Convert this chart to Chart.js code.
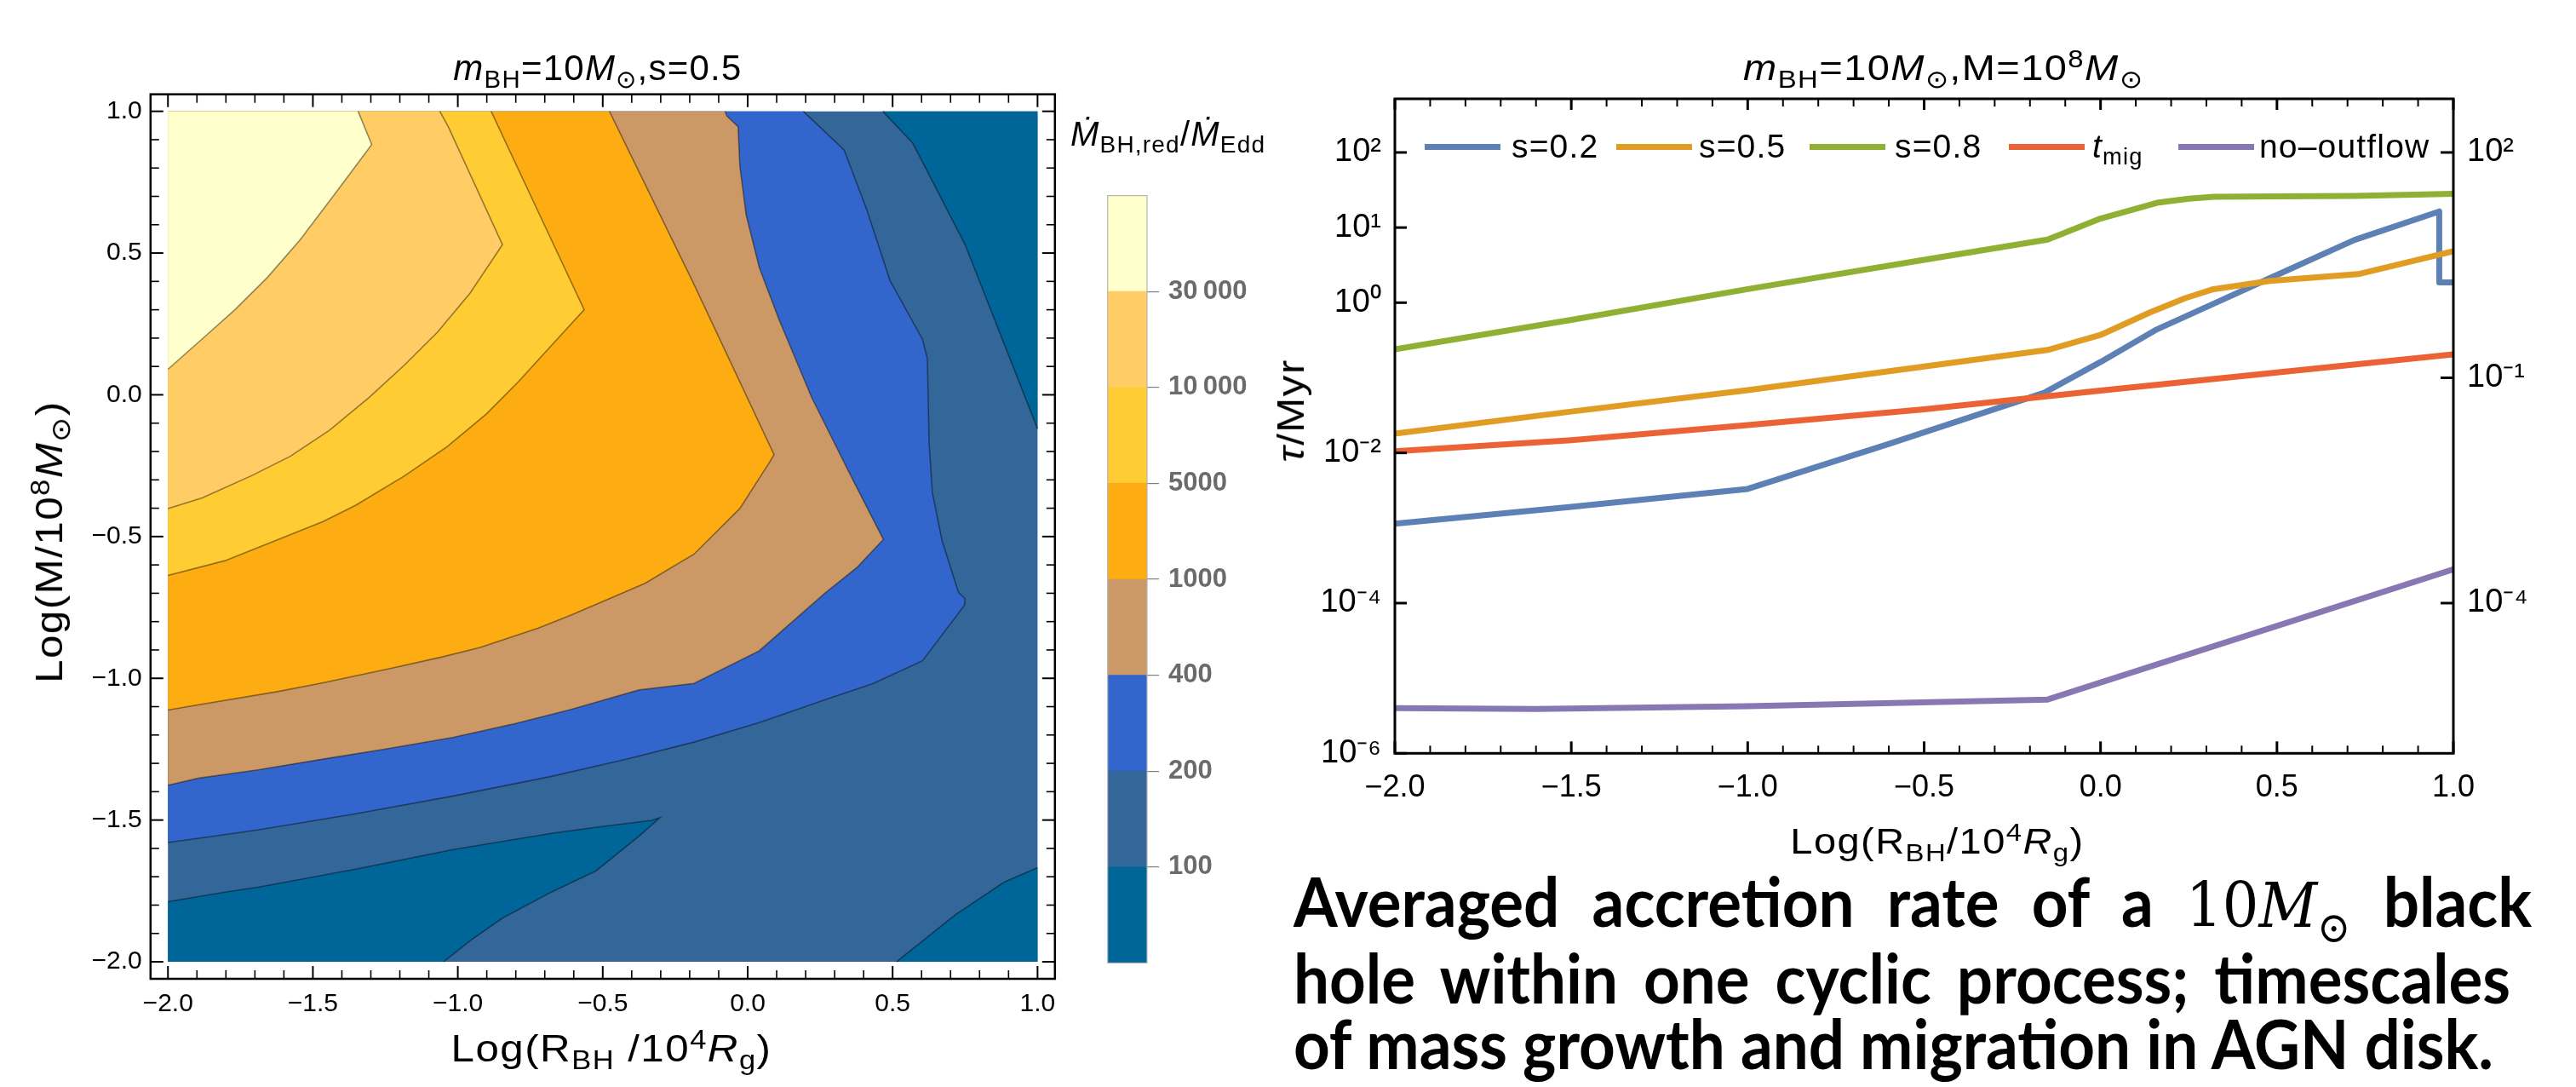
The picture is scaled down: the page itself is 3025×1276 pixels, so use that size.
<!DOCTYPE html>
<html lang="es">
<head>
<meta charset="utf-8">
<title>Tasa de acreción promedio y escalas de tiempo</title>
<script src="https://cdn.jsdelivr.net/npm/chart.js@4.4.1/dist/chart.umd.min.js"></script>
<style>
  html, body { margin: 0; padding: 0; background: #fff; }
  #lienzo { position: relative; width: 3025px; height: 1276px; overflow: hidden; font-family: "Liberation Sans", Arial, sans-serif; color: #000; }
  #lienzo canvas { position: absolute; }
  .txt { position: absolute; white-space: nowrap; line-height: 1; letter-spacing: 0.03em; }
  .cen { transform: translateX(-50%); }
  .ancho { transform: translateX(-50%) scaleX(1.12); }
  .rot { transform: translate(-50%, -50%) rotate(-90deg) scaleX(1.12); }
  .sub { font-size: 0.7em; position: relative; top: 0.3em; }
  .sup { font-size: 0.7em; position: relative; top: -0.5em; }
  .ley-linea { position: absolute; width: 89px; height: 7px; }
  #nota { position: absolute; left: 1519px; top: 1019px; font-family: Lato, "Open Sans", sans-serif; font-weight: 700; font-size: 80px; line-height: 77px; transform-origin: 0 0; }
  #nota .ln { white-space: nowrap; }
  #nota .mat { font-family: "DejaVu Serif", "Liberation Serif", serif; font-weight: 400; font-size: 0.9em; }
  #nota .mat .sub { top: 0.35em; }
</style>
</head>
<body>
<div id="lienzo">
  <canvas id="contorno" width="1290" height="1276" style="left:0;top:0"></canvas>
  <canvas id="barra" width="240" height="960" style="left:1290px;top:200px"></canvas>
  <canvas id="tiempos" width="1545" height="1000" style="left:1480px;top:0"></canvas>

  <div class="txt cen" style="left:702px;top:59px;font-size:42px"><i>m</i><span class="sub">BH</span>=10<i>M</i><span class="sub">⊙</span>,s=0.5</div>
  <div class="txt rot" style="left:58px;top:636px;font-size:44px">Log(M/10<span class="sup">8</span><i>M</i><span class="sub">⊙</span>)</div>
  <div class="txt ancho" style="left:718px;top:1209px;font-size:44px">Log(R<span class="sub">BH</span> /10<span class="sup">4</span><i>R</i><span class="sub">g</span>)</div>
  <div class="txt" style="left:1257px;top:137px;font-size:40px"><i>Ṁ</i><span class="sub">BH,red</span>/<i>Ṁ</i><span class="sub">Edd</span></div>

  <div class="txt ancho" style="left:2282px;top:59px;font-size:42px"><i>m</i><span class="sub">BH</span>=10<i>M</i><span class="sub">⊙</span>,M=10<span class="sup">8</span><i>M</i><span class="sub">⊙</span></div>
  <div class="txt rot" style="left:1516px;top:482px;font-size:44px"><i>τ</i>/Myr</div>
  <div class="txt ancho" style="left:2275px;top:967px;font-size:42px">Log(R<span class="sub">BH</span>/10<span class="sup">4</span><i>R</i><span class="sub">g</span>)</div>
  <div id="leyenda"></div>

  <div id="nota">
    <div class="ln"><span id="l1">Averaged accretion rate of a <span class="mat">10<i>M</i><span class="sub">⊙</span></span> black</span></div>
    <div class="ln"><span id="l2">hole within one cyclic process; timescales</span></div>
    <div class="ln"><span id="l3">of mass growth and migration in AGN disk.</span></div>
  </div>
</div>

<script>
// Panel izquierdo: contornos de la tasa de acreción; panel derecho: escalas de tiempo.
(function () {
  // ---------------- Datos: contornos (x = Log(R_BH/1e4 Rg), y = Log(M/1e8 Msol)) ----------------
  var C30000 = [[-1.344, 1], [-1.297, 0.883], [-1.42, 0.714], [-1.544, 0.547], [-1.656, 0.415], [-1.769, 0.30], [-1.87, 0.208], [-2, 0.09]];
  var C10000 = [[-1.062, 1], [-1.032, 0.944], [-0.846, 0.53], [-0.958, 0.358], [-1.071, 0.22], [-1.184, 0.105], [-1.307, -0.01], [-1.443, -0.125], [-1.578, -0.217], [-1.713, -0.286], [-1.882, -0.364], [-2, -0.401]];
  var C5000 = [[-0.885, 1], [-0.72, 0.64], [-0.564, 0.30], [-0.677, 0.174], [-0.79, 0.047], [-0.902, -0.068], [-1.037, -0.183], [-1.184, -0.286], [-1.353, -0.39], [-1.465, -0.447], [-1.634, -0.516], [-1.803, -0.585], [-2, -0.637]];
  var C1000 = [[-0.477, 1], [-0.19, 0.40], [0.091, -0.211], [0.074, -0.24], [-0.027, -0.401], [-0.185, -0.562], [-0.354, -0.665], [-0.609, -0.777], [-0.722, -0.823], [-0.925, -0.892], [-1.06, -0.926], [-1.24, -0.967], [-1.465, -1.016], [-1.622, -1.047], [-1.893, -1.093], [-2, -1.112]];
  var C400 = [[-0.078, 1], [-0.072, 0.984], [-0.033, 0.946], [-0.027, 0.806], [-0.005, 0.633], [0.04, 0.449], [0.108, 0.266], [0.221, -0.01], [0.356, -0.286], [0.468, -0.51], [0.378, -0.608], [0.266, -0.7], [0.04, -0.903], [-0.185, -1.018], [-0.375, -1.041], [-0.609, -1.11], [-0.812, -1.162], [-1.015, -1.208], [-1.24, -1.248], [-1.465, -1.285], [-1.69, -1.323], [-1.893, -1.352], [-2, -1.377]];
  var C200 = [[0.192, 1], [0.333, 0.863], [0.412, 0.65], [0.491, 0.403], [0.603, 0.196], [0.62, 0.128], [0.626, -0.171], [0.637, -0.344], [0.671, -0.516], [0.727, -0.696], [0.75, -0.72], [0.748, -0.742], [0.603, -0.938], [0.434, -1.018], [0.266, -1.076], [0.04, -1.156], [-0.185, -1.225], [-0.41, -1.283], [-0.677, -1.346], [-1.015, -1.415], [-1.352, -1.478], [-1.69, -1.535], [-1.893, -1.564], [-2, -1.579]];
  var C100_SUP = [[0.466, 1], [0.57, 0.887], [0.75, 0.53], [1, -0.12]];
  var C100_CUNA = [[-2, -1.788], [-1.803, -1.754], [-1.69, -1.737], [-1.352, -1.673], [-1.015, -1.604], [-0.677, -1.547], [-0.52, -1.525], [-0.331, -1.501], [-0.303, -1.492], [-0.376, -1.558], [-0.523, -1.679], [-0.677, -1.754], [-0.846, -1.846], [-0.958, -1.926], [-1.049, -2]];
  var C100_INF = [[0.513, -2], [0.716, -1.834], [0.885, -1.719], [1, -1.668]];

  // Barra de colores (de abajo hacia arriba)
  var NIVELES = ['100', '200', '400', '1000', '5000', '10\u2009000', '30\u2009000'];
  var BANDAS = [1, 1, 1, 1, 1, 1, 1, 1];
  var COLORES = ['#006699', '#336699', '#3366CC', '#CC9966', '#FDAD12', '#FFCC33', '#FFCC66', '#FFFFCC'];

  // ---------------- Datos: escalas de tiempo (log10 de tau/Myr) ----------------
  var S02_X = [-2, -1.5, -1.0, -0.6, -0.16, 0.0, 0.16, 0.32, 0.48, 0.72, 0.96, 0.96, 1.0];
  var S02_LOG = [-2.943, -2.72, -2.48, -1.88, -1.2, -0.79, -0.355, -0.015, 0.326, 0.836, 1.214, 0.269, 0.269];
  var S05_X = [-2, -1.5, -1.0, -0.5, -0.15, 0.0, 0.14, 0.24, 0.32, 0.48, 0.73, 1.0];
  var S05_LOG = [-1.745, -1.45, -1.165, -0.85, -0.63, -0.43, -0.13, 0.06, 0.18, 0.29, 0.38, 0.685];
  var S08_X = [-2, -1.5, -1.0, -0.5, -0.15, 0.0, 0.16, 0.25, 0.32, 0.5, 0.72, 1.0];
  var S08_LOG = [-0.62, -0.23, 0.18, 0.57, 0.84, 1.12, 1.33, 1.385, 1.41, 1.415, 1.422, 1.448];
  var TMIG_X = [-2, -1.5, -1.0, -0.5, 0.0, 0.5, 1.0];
  var TMIG_LOG = [-1.98, -1.83, -1.63, -1.42, -1.17, -0.93, -0.687];
  var NOOUT_X = [-2, -1.6, -1.0, -0.15, 1.0];
  var NOOUT_LOG = [-5.397, -5.41, -5.373, -5.284, -3.551];

  var NOMBRES = ['s=0.2', 's=0.5', 's=0.8', '<i>t</i><span class="sub">mig</span>', 'no–outflow'];
  var COLORES_SERIE = ['#5E81B5', '#E19C24', '#8FB032', '#EB6235', '#8778B3'];
  var TICKS_IZQ = [100, 10, 1, 1e-2, 1e-4, 1e-6];
  var TICKS_DER = [100, 1e-1, 1e-4];

  // ---------------- Estilo / posiciones ----------------
  var FUENTE = '"Liberation Sans", Arial, sans-serif';
  var LINEA_CONTORNO = 'rgba(0,0,0,0.42)';
  var LEY_LINEA_X = [1673, 1898, 2125, 2359, 2558];
  var LEY_TEXTO_X = [1775, 1995, 2225, 2457, 2653];

  Chart.defaults.font.family = FUENTE;

  function menos(v) { return (v < -1e-9 ? '\u2212' : '') + Math.abs(v).toFixed(1); }
  function cadaMedio(v) { var r = Math.round(v * 10); return r % 5 === 0 ? menos(v) : ''; }
  var SUP = { '-': '\u207B', '0': '\u2070', '1': '\u00B9', '2': '\u00B2', '3': '\u00B3', '4': '\u2074', '5': '\u2075', '6': '\u2076', '7': '\u2077', '8': '\u2078', '9': '\u2079' };
  function potencia(v) { var e = Math.round(Math.log10(v)); return '10' + String(e).split('').map(function (c) { return SUP[c]; }).join(''); }

  // Marco estilo Mathematica con marcas hacia adentro
  function marco(cfg) {
    return {
      id: 'marco',
      afterDraw: function (chart) {
        var a = chart.chartArea, ctx = chart.ctx;
        ctx.save();
        ctx.strokeStyle = cfg.color || '#000';
        (cfg.marcas || []).forEach(function (m) {
          var sc = chart.scales[m.escala];
          sc.ticks.forEach(function (t) {
            var mayor = !m.cada || Math.abs(t.value / m.cada - Math.round(t.value / m.cada)) < 1e-6;
            var largo = mayor ? m.mayor : m.menor;
            var p = sc.getPixelForValue(t.value);
            ctx.lineWidth = mayor ? cfg.anchoMayor : cfg.anchoMenor;
            ctx.beginPath();
            if (m.lado === 'bottom') { ctx.moveTo(p, a.bottom); ctx.lineTo(p, a.bottom - largo); }
            if (m.lado === 'top') { ctx.moveTo(p, a.top); ctx.lineTo(p, a.top + largo); }
            if (m.lado === 'left') { ctx.moveTo(a.left, p); ctx.lineTo(a.left + largo, p); }
            if (m.lado === 'right') { ctx.moveTo(a.right, p); ctx.lineTo(a.right - largo, p); }
            ctx.stroke();
          });
        });
        ctx.lineWidth = cfg.anchoMarco;
        ctx.strokeRect(a.left, a.top, a.right - a.left, a.bottom - a.top);
        ctx.restore();
      }
    };
  }

  // ---------------- Contornos ----------------
  function xy(puntos) { return puntos.map(function (p) { return { x: p[0], y: p[1] }; }); }
  // regiones rellenas (de abajo hacia arriba) y luego las curvas de nivel encima
  var regiones = [
    [[[-2, -2], [1, -2], [1, 1], [-2, 1]], COLORES[1]],
    [[[1, 1]].concat(C100_SUP), COLORES[0]],
    [C100_CUNA.concat([[-2, -2]]), COLORES[0]],
    [C100_INF.concat([[1, -2]]), COLORES[0]],
    [[[-2, 1]].concat(C200), COLORES[2]],
    [[[-2, 1]].concat(C400), COLORES[3]],
    [[[-2, 1]].concat(C1000), COLORES[4]],
    [[[-2, 1]].concat(C5000), COLORES[5]],
    [[[-2, 1]].concat(C10000), COLORES[6]],
    [[[-2, 1]].concat(C30000), COLORES[7]]
  ];
  var capas = regiones.map(function (r, i) {
    return { data: xy(r[0]), showLine: true, fill: 'shape', backgroundColor: r[1], borderWidth: 0, pointRadius: 0, tension: 0, order: -i };
  });
  [C100_SUP, C100_CUNA, C100_INF, C200, C400, C1000, C5000, C10000, C30000].forEach(function (c) {
    capas.push({ data: xy(c), showLine: true, fill: false, borderColor: LINEA_CONTORNO, borderWidth: 1.6, pointRadius: 0, tension: 0, order: -100 });
  });

  function ejeLineal(pos, ancho, alto, pad) {
    return {
      type: 'linear', position: pos, min: -2.06, max: 1.06,
      grid: { display: false, drawTicks: false }, border: { display: false },
      ticks: { stepSize: 0.1, includeBounds: false, autoSkip: false, maxTicksLimit: 1000, maxRotation: 0, padding: pad, color: '#000', font: { size: 30 }, callback: cadaMedio },
      afterFit: function (s) { if (ancho) s.width = ancho; if (alto) s.height = alto; }
    };
  }

  new Chart(document.getElementById('contorno'), {
    type: 'scatter',
    data: { datasets: capas },
    options: {
      responsive: false, animation: false, events: [],
      layout: { padding: { left: 0, top: 110.7, right: 51.2, bottom: 67 } },
      plugins: { legend: { display: false }, tooltip: { enabled: false } },
      scales: { x: ejeLineal('bottom', 0, 60, 12), y: ejeLineal('left', 176.8, 0, 10) }
    },
    plugins: [marco({
      anchoMarco: 2.5, anchoMayor: 2, anchoMenor: 1.6,
      marcas: [
        { escala: 'x', lado: 'bottom', cada: 0.5, mayor: 15, menor: 10 },
        { escala: 'x', lado: 'top', cada: 0.5, mayor: 15, menor: 10 },
        { escala: 'y', lado: 'left', cada: 0.5, mayor: 15, menor: 10 },
        { escala: 'y', lado: 'right', cada: 0.5, mayor: 15, menor: 10 }
      ]
    })]
  });

  // ---------------- Barra de colores ----------------
  new Chart(document.getElementById('barra'), {
    type: 'bar',
    data: {
      labels: [''],
      datasets: BANDAS.map(function (v, i) { return { data: [v], backgroundColor: COLORES[i], borderWidth: 0, barPercentage: 1, categoryPercentage: 1 }; })
    },
    options: {
      responsive: false, animation: false, events: [],
      layout: { padding: { left: 10.7, top: 19, right: 0, bottom: 22 } },
      plugins: { legend: { display: false }, tooltip: { enabled: false } },
      scales: {
        x: { display: false, stacked: true },
        y: {
          stacked: true, position: 'right', min: 0, max: 8,
          grid: { drawOnChartArea: false, drawTicks: true, tickLength: 14, color: '#808080', lineWidth: 1.2 },
          border: { display: false },
          ticks: { stepSize: 1, autoSkip: false, padding: 11, color: '#6b6b6b', font: { size: 31, weight: 'bold' },
            callback: function (v) { return (v >= 1 && v <= 7) ? NIVELES[v - 1] : null; } },
          afterFit: function (s) { s.width = 183; }
        }
      }
    },
    plugins: [marco({ anchoMarco: 1.2, color: '#b5b5b5', marcas: [] })]
  });

  // ---------------- Escalas de tiempo ----------------
  var seriesX = [S02_X, S05_X, S08_X, TMIG_X, NOOUT_X];
  var seriesLog = [S02_LOG, S05_LOG, S08_LOG, TMIG_LOG, NOOUT_LOG];
  var lineas = seriesX.map(function (xs, i) {
    return {
      data: xs.map(function (x, j) { return { x: x, y: Math.pow(10, seriesLog[i][j]) }; }),
      showLine: true, fill: false, borderColor: COLORES_SERIE[i], borderWidth: 7,
      borderJoinStyle: 'round', pointRadius: 0, tension: 0, order: -i
    };
  });

  function ejeLog(pos, ticks, ancho) {
    return {
      type: 'logarithmic', position: pos, min: 1e-6, max: 517.6,
      grid: { display: false, drawTicks: false }, border: { display: false },
      afterBuildTicks: function (s) { s.ticks = ticks.map(function (v) { return { value: v }; }); },
      ticks: { autoSkip: false, padding: 16, color: '#000', font: { size: 38 }, callback: potencia },
      afterFit: function (s) { s.width = ancho; }
    };
  }

  new Chart(document.getElementById('tiempos'), {
    type: 'scatter',
    data: { datasets: lineas },
    options: {
      responsive: false, animation: false, events: [],
      layout: { padding: { left: 0, top: 116, right: 44, bottom: 55.7 } },
      plugins: { legend: { display: false }, tooltip: { enabled: false } },
      scales: {
        x: {
          type: 'linear', min: -2, max: 1,
          grid: { display: false, drawTicks: false }, border: { display: false },
          ticks: { stepSize: 0.1, autoSkip: false, maxTicksLimit: 1000, maxRotation: 0, padding: 19, color: '#000', font: { size: 36 }, callback: cadaMedio },
          afterFit: function (s) { s.height = 60; }
        },
        y: ejeLog('left', TICKS_IZQ, 158),
        y2: ejeLog('right', TICKS_DER, 100)
      }
    },
    plugins: [marco({
      anchoMarco: 3, anchoMayor: 3, anchoMenor: 2,
      marcas: [
        { escala: 'x', lado: 'bottom', cada: 0.5, mayor: 14, menor: 9 },
        { escala: 'x', lado: 'top', cada: 0.5, mayor: 13, menor: 9 },
        { escala: 'y', lado: 'left', cada: 0, mayor: 14, menor: 14 },
        { escala: 'y2', lado: 'right', cada: 0, mayor: 15, menor: 15 }
      ]
    })]
  });

  // Leyenda dentro del panel derecho
  var ley = document.getElementById('leyenda');
  NOMBRES.forEach(function (n, i) {
    var l = document.createElement('div');
    l.className = 'ley-linea';
    l.style.left = LEY_LINEA_X[i] + 'px'; l.style.top = '169px'; l.style.background = COLORES_SERIE[i];
    ley.appendChild(l);
    var t = document.createElement('div');
    t.className = 'txt';
    t.style.left = LEY_TEXTO_X[i] + 'px'; t.style.top = '152px'; t.style.fontSize = '39px';
    t.innerHTML = n;
    ley.appendChild(t);
  });

  // Texto justificado de la nota: medir primero, luego escalar
  var nota = document.getElementById('nota');
  var objetivo = [1454, 1429, 1409];
  var anchos = ['l1', 'l2', 'l3'].map(function (id) { return document.getElementById(id).getBoundingClientRect().width; });
  var k = objetivo[2] / anchos[2];
  ['l1', 'l2'].forEach(function (id, i) {
    var el = document.getElementById(id);
    var huecos = el.textContent.split(' ').length - 1;
    el.style.wordSpacing = ((objetivo[i] / k - anchos[i]) / huecos) + 'px';
  });
  nota.style.transform = 'scaleX(' + k + ')';
})();
</script>
</body>
</html>
